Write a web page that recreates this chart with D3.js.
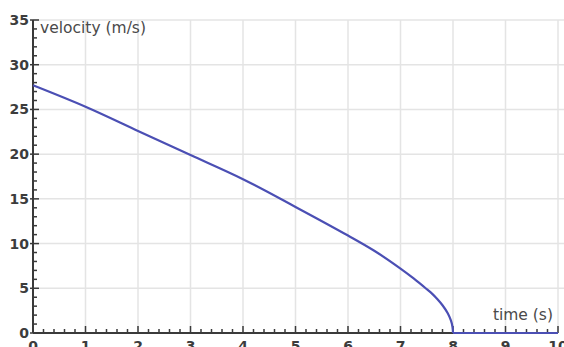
<!DOCTYPE html>
<html>
<head>
<meta charset="utf-8">
<script src="https://cdn.jsdelivr.net/npm/d3@7"></script>
<style>
  body { margin: 0; background: #fff; }
  svg { display: block; }
  .grid line { stroke: #e4e4e4; stroke-width: 1.5; }
  .tick-label { font-family: "DejaVu Sans", sans-serif; font-size: 14px; font-weight: bold; fill: #3c3c3c; }
  .axis-title { font-family: "DejaVu Sans", sans-serif; font-size: 15.5px; fill: #4a4a4a; }
</style>
</head>
<body>
<div id="chart"></div>
<script>
// velocity readings taken from the curve
const times = [0, 1, 2, 3, 4, 5, 6, 6.5, 7, 7.25, 7.5, 7.6, 7.7, 7.8, 7.9, 7.96, 7.99, 8, 9, 10];
const velocities = [27.7, 25.3, 22.6, 19.9, 17.2, 14.1, 10.9, 9.2, 7.2, 6.1, 4.9, 4.4, 3.8, 3.1, 2.2, 1.4, 0.7, 0, 0, 0];

const xTicks = [0, 1, 2, 3, 4, 5, 6, 7, 8, 9, 10];
const yTicks = [0, 5, 10, 15, 20, 25, 30, 35];

const width = 564;
const height = 347;

const x = d3.scaleLinear().domain([0, 10]).range([33, 558]);
const y = d3.scaleLinear().domain([0, 35]).range([333, 20]);

const svg = d3.select('#chart').append('svg')
  .attr('width', width)
  .attr('height', height);

// Grid
const grid = svg.append('g').attr('class', 'grid');
grid.selectAll('.gx').data(xTicks.slice(1)).enter().append('line')
  .attr('x1', d => x(d)).attr('x2', d => x(d))
  .attr('y1', y(35)).attr('y2', y(0));
grid.selectAll('.gy').data(yTicks.slice(1)).enter().append('line')
  .attr('x1', x(0)).attr('x2', width)
  .attr('y1', d => y(d)).attr('y2', d => y(d));

// Axes: minor ticks inside, major labels outside
const axisColor = '#3a3a3a';
const axes = svg.append('g');

axes.selectAll('.mx').data(d3.range(0, 10.001, 0.2)).enter().append('line')
  .attr('x1', d => x(d)).attr('x2', d => x(d))
  .attr('y1', y(0))
  .attr('y2', (d, i) => y(0) - (i % 5 === 0 ? 7 : 4))
  .attr('stroke', axisColor).attr('stroke-width', 1.5);

axes.selectAll('.my').data(d3.range(0, 35.001, 1)).enter().append('line')
  .attr('x1', (d, i) => x(0) - (i % 5 === 0 ? 3 : 0))
  .attr('x2', (d, i) => x(0) + (i % 5 === 0 ? 6 : 4))
  .attr('y1', d => y(d)).attr('y2', d => y(d))
  .attr('stroke', axisColor).attr('stroke-width', 1.5);

axes.append('line')
  .attr('x1', x(0)).attr('x2', x(10))
  .attr('y1', y(0)).attr('y2', y(0))
  .attr('stroke', axisColor).attr('stroke-width', 2);
axes.append('line')
  .attr('x1', x(0)).attr('x2', x(0))
  .attr('y1', y(0)).attr('y2', y(35))
  .attr('stroke', axisColor).attr('stroke-width', 2);

// Tick labels (bottom row is cut off by the frame, as in the original)
svg.selectAll('.xl').data(xTicks).enter().append('text')
  .attr('class', 'tick-label')
  .attr('x', d => x(d))
  .attr('y', y(0) + 18)
  .attr('text-anchor', 'middle')
  .text(d => d);

svg.selectAll('.yl').data(yTicks).enter().append('text')
  .attr('class', 'tick-label')
  .attr('x', x(0) - 4)
  .attr('y', d => y(d) + 5)
  .attr('text-anchor', 'end')
  .text(d => d);

// Axis titles
svg.append('text').attr('class', 'axis-title')
  .attr('x', 40).attr('y', 33)
  .text('velocity (m/s)');
svg.append('text').attr('class', 'axis-title')
  .attr('x', 553).attr('y', 320)
  .attr('text-anchor', 'end')
  .text('time (s)');

// Velocity curve: smooth part until the stop, then flat along zero
const points = times.map((t, i) => [t, velocities[i]]);

const line = d3.line()
  .x(d => x(d[0]))
  .y(d => y(d[1]));

const curveG = svg.append('g')
  .attr('fill', 'none')
  .attr('stroke', '#4b4fb4')
  .attr('stroke-width', 2.2);

curveG.append('path')
  .datum(points.filter(d => d[0] <= 8))
  .attr('d', line.curve(d3.curveCatmullRom.alpha(0.5)));

curveG.append('path')
  .datum(points.filter(d => d[0] >= 8))
  .attr('d', line.curve(d3.curveLinear));
</script>
</body>
</html>
